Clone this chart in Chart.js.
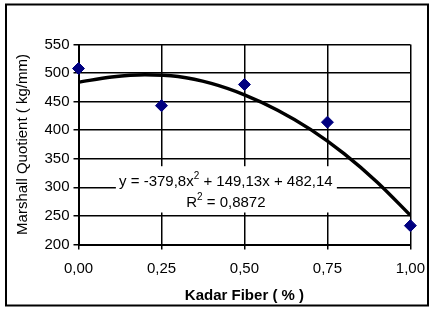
<!DOCTYPE html>
<html>
<head>
<meta charset="utf-8">
<script src="https://cdn.jsdelivr.net/npm/chart.js@4/dist/chart.umd.min.js"></script>
<style>
  html, body { margin: 0; padding: 0; background: #fff; }
  #wrap { width: 435px; height: 309px; }
</style>
</head>
<body>
<div id="wrap"><canvas id="myChart" width="435" height="309"></canvas></div>
<script>
// Dados
var kadarFiber = [0, 0.25, 0.5, 0.75, 1];
var marshallQuotient = [508, 443, 480, 414, 233];

var trendX = [0, 0.1, 0.2, 0.3, 0.4, 0.5, 0.6, 0.7, 0.8, 0.9, 1];
var trendY = [484, 493, 497, 494, 482, 462, 435, 401, 359, 309, 251];

var xTickLabels = ['0,00', '0,25', '0,50', '0,75', '1,00'];
var yTicks = [200, 250, 300, 350, 400, 450, 500, 550];

var fontFamily = '"Liberation Sans", Arial, sans-serif';

// Caixa com a equação da tendência
var equationPlugin = {
  id: 'equation',
  beforeDatasetsDraw: function(chart) {
    var ctx = chart.ctx;
    var xs = chart.scales.x, ys = chart.scales.y;
    var cx = xs.getPixelForValue(0.444);
    var top = ys.getPixelForValue(337);
    var bottom = ys.getPixelForValue(256);
    ctx.save();
    ctx.fillStyle = '#fff';
    ctx.fillRect(cx - 110, top, 221, bottom - top);

    ctx.fillStyle = '#000';
    ctx.textBaseline = 'alphabetic';
    var big = '15px ' + fontFamily;
    var small = '10px ' + fontFamily;
    function drawParts(parts, centerX, baseY) {
      var total = 0;
      parts.forEach(function(p) {
        ctx.font = p.sup ? small : big;
        p.w = ctx.measureText(p.t).width;
        total += p.w;
      });
      var x = centerX - total / 2;
      parts.forEach(function(p) {
        ctx.font = p.sup ? small : big;
        ctx.fillText(p.t, x, p.sup ? baseY - 7 : baseY);
        x += p.w;
      });
    }
    var base1 = ys.getPixelForValue(302);
    drawParts([{t: 'y = -379,8x'}, {t: '2', sup: true}, {t: ' + 149,13x + 482,14'}], cx, base1);
    drawParts([{t: 'R'}, {t: '2', sup: true}, {t: ' = 0,8872'}], cx, base1 + 21);
    ctx.restore();
  }
};

// Moldura externa
var framePlugin = {
  id: 'frame',
  afterDraw: function(chart) {
    var ctx = chart.ctx;
    ctx.save();
    ctx.strokeStyle = '#000';
    ctx.lineWidth = 2;
    ctx.strokeRect(6, 4.5, 422, 301);
    ctx.restore();
  }
};

var ctx = document.getElementById('myChart').getContext('2d');
var chart = new Chart(ctx, {
  type: 'scatter',
  data: {
    datasets: [{
      label: 'Tendência',
      type: 'line',
      data: trendX.map(function(x, i) { return {x: x, y: trendY[i]}; }),
      borderColor: '#000',
      borderWidth: 3.5,
      pointRadius: 0,
      fill: false,
      cubicInterpolationMode: 'monotone',
      order: 2
    }, {
      label: 'Marshall Quotient',
      data: kadarFiber.map(function(x, i) { return {x: x, y: marshallQuotient[i]}; }),
      backgroundColor: '#000080',
      borderColor: '#000080',
      borderWidth: 1,
      pointStyle: 'rectRot',
      pointRadius: 6,
      clip: false,
      order: 1
    }]
  },
  options: {
    responsive: false,
    animation: false,
    events: [],
    layout: {
      autoPadding: false,
      padding: {left: 10, right: 20, top: 44.5, bottom: 2}
    },
    plugins: {
      legend: {display: false},
      tooltip: {enabled: false}
    },
    scales: {
      x: {
        type: 'linear',
        position: 'bottom',
        min: 0,
        max: 1,
        afterFit: function(scale) { scale.height = 62.5; },
        afterBuildTicks: function(scale) {
          scale.ticks = xTickLabels.map(function(l, i) { return {value: i * 0.25}; });
        },
        ticks: {
          color: '#000',
          font: {family: fontFamily, size: 15},
          padding: 10,
          maxRotation: 0,
          callback: function(v, i) { return xTickLabels[i]; }
        },
        grid: {color: '#000', lineWidth: 1.5, tickLength: 5, tickColor: '#000', tickWidth: 1.5},
        border: {color: '#000', width: 2},
        title: {
          display: true,
          text: 'Kadar Fiber ( % )',
          color: '#000',
          font: {family: fontFamily, size: 15, weight: 'bold'},
          padding: {top: 2, bottom: 2}
        }
      },
      y: {
        min: 200,
        max: 550,
        afterFit: function(scale) { scale.width = 68.5; },
        afterBuildTicks: function(scale) {
          scale.ticks = yTicks.map(function(v) { return {value: v}; });
        },
        ticks: {
          color: '#000',
          font: {family: fontFamily, size: 15},
          padding: 4
        },
        grid: {color: '#000', lineWidth: 1.5, tickLength: 5, tickColor: '#000', tickWidth: 1.5},
        border: {color: '#000', width: 2},
        title: {
          display: true,
          text: 'Marshall Quotient ( kg/mm)',
          color: '#000',
          font: {family: fontFamily, size: 15},
          padding: {top: 4, bottom: 4}
        }
      }
    }
  },
  plugins: [equationPlugin, framePlugin]
});
</script>
</body>
</html>
